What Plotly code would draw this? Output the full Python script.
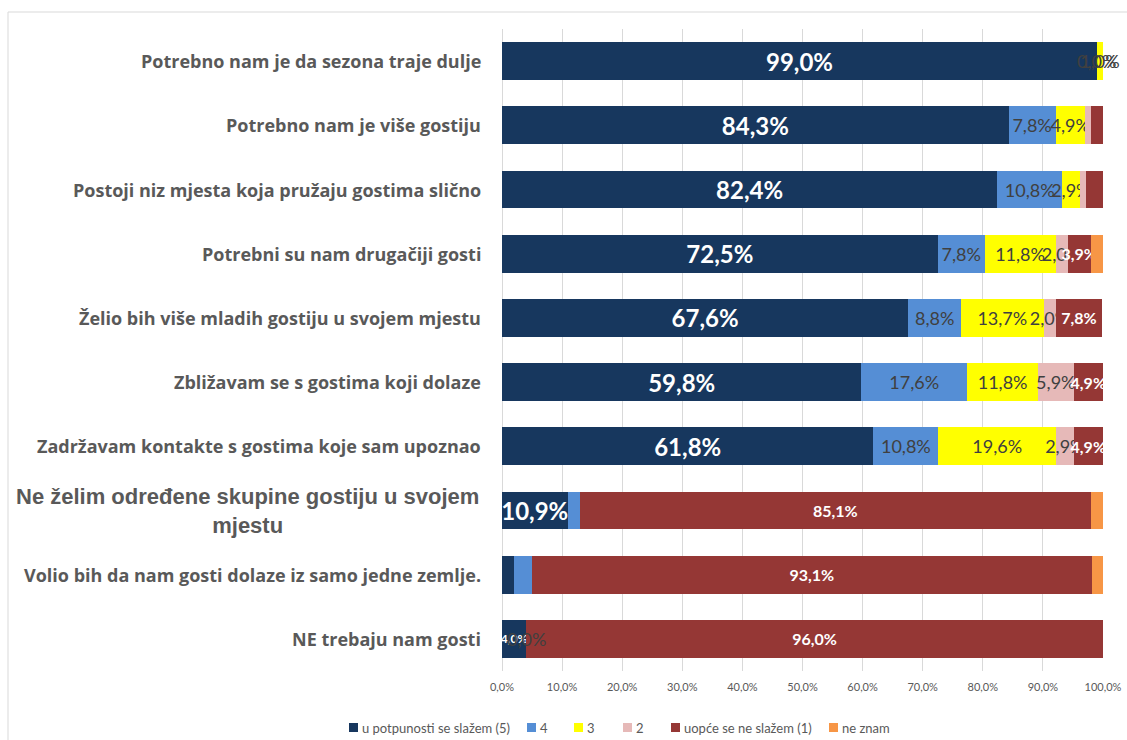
import plotly.graph_objects as go

# Survey statements (top to bottom)
statements = [
    "Potrebno nam je da sezona traje dulje",
    "Potrebno nam je više gostiju",
    "Postoji niz mjesta koja pružaju gostima slično",
    "Potrebni su nam drugačiji gosti",
    "Želio bih više mladih gostiju u svojem mjestu",
    "Zbližavam se s gostima koji dolaze",
    "Zadržavam kontakte s gostima koje sam upoznao",
    "Ne želim određene skupine gostiju u svojem mjestu",
    "Volio bih da nam gosti dolaze iz samo jedne zemlje.",
    "NE trebaju nam gosti",
]

series_names = ["u potpunosti se slažem (5)", "4", "3", "2", "uopće se ne slažem (1)", "ne znam"]

s5 = [99.0, 84.3, 82.4, 72.5, 67.6, 59.8, 61.8, 10.9, 2.0, 4.0]
s4 = [0.0, 7.8, 10.8, 7.8, 8.8, 17.6, 10.8, 2.0, 3.0, 0.0]
s3 = [1.0, 4.9, 2.9, 11.8, 13.7, 11.8, 19.6, 0.0, 0.0, 0.0]
s2 = [0.0, 1.0, 1.0, 2.0, 2.0, 5.9, 2.9, 0.0, 0.0, 0.0]
s1 = [0.0, 2.0, 2.9, 3.9, 7.8, 4.9, 4.9, 85.1, 93.1, 96.0]
s0 = [0.0, 0.0, 0.0, 2.0, 0.0, 0.0, 0.0, 2.0, 2.0, 0.0]

# which data labels are shown for each series
show5 = [True, True, True, True, True, True, True, True, False, True]
show4 = [True, True, True, True, True, True, True, False, False, True]
show3 = [True, True, True, True, True, True, True, False, False, False]
show2 = [False, False, False, True, True, True, True, False, False, False]
show1 = [False, False, False, True, True, True, True, True, True, True]
show0 = [False] * 10

x_ticks = [0, 10, 20, 30, 40, 50, 60, 70, 80, 90, 100]

values = [s5, s4, s3, s2, s1, s0]
shows = [show5, show4, show3, show2, show1, show0]
colors = ["#17375e", "#558ed5", "#ffff00", "#e6b9b8", "#953735", "#f79646"]

# plot-area geometry in pixels
L, R, T, B = 502, 1103, 29, 671
W, H = 1127, 740


def px(x):
    return (x - L) / (R - L)


def py(y):
    return (B - y) / (B - T)


def fmt(v):
    return f"{v:.1f}".replace(".", ",") + "%"


fig = go.Figure()

for i, (name, vals, show, col) in enumerate(zip(series_names, values, shows, colors)):
    texts = [fmt(v) if (s and v > 0) else "" for v, s in zip(vals, show)]
    if i == 0:
        sizes = [12 if v < 5 else 24 for v in vals]
        tf = dict(family="Lato", size=sizes, color="white", weight="bold")
    elif i == 4:
        tf = dict(family="Lato", size=16, color="white", weight="bold")
    else:
        tf = dict(family="Lato", size=18, color="#404040")
    fig.add_trace(go.Bar(
        y=statements, x=vals, name=name, orientation="h",
        marker=dict(color=col, line=dict(width=0)),
        text=texts, textposition="inside", insidetextanchor="middle",
        constraintext="none", textangle=0, textfont=tf,
        cliponaxis=False, hoverinfo="skip", showlegend=False,
    ))

# labels of zero-width segments, placed where the segment sits
for i, (vals, show) in enumerate(zip(values, shows)):
    for r, (v, s) in enumerate(zip(vals, show)):
        if s and v == 0:
            start = sum(values[k][r] for k in range(i))
            fig.add_annotation(
                x=start, y=statements[r], xref="x", yref="y",
                text=fmt(v), showarrow=False, xanchor="center",
                font=dict(family="Lato", size=18, color="#404040"),
            )

# category labels drawn beside the bars
for idx, s in enumerate(statements):
    if idx == 7:
        fig.add_annotation(
            x=px(481), xref="paper", y=s, yref="y", xanchor="right",
            text="Ne želim određene skupine gostiju u svojem<br>mjestu",
            align="center", showarrow=False,
            font=dict(family="Liberation Sans", size=22, color="#595959", weight="bold"),
        )
    else:
        fig.add_annotation(
            x=px(483), xref="paper", y=s, yref="y", xanchor="right",
            text=s, align="right", showarrow=False,
            font=dict(family="Open Sans", size=18, color="#595959", weight="bold"),
        )

# legend row: colour swatch followed by series name
swatch_left = [349, 527, 574, 623, 671, 829]
for name, col, sx in zip(series_names, colors, swatch_left):
    fig.add_shape(type="rect", xref="paper", yref="paper",
                  x0=px(sx), x1=px(sx + 9), y0=py(732), y1=py(723),
                  fillcolor=col, line=dict(width=0))
    fig.add_annotation(x=px(sx + 11), y=py(728), xref="paper", yref="paper",
                       xanchor="left", yanchor="middle", text=name, showarrow=False,
                       font=dict(family="Lato", size=13, color="#595959"))

# outer frame lines
fig.add_shape(type="line", xref="paper", yref="paper",
              x0=px(8), x1=px(W + 5), y0=py(12), y1=py(12),
              line=dict(color="#d9d9d9", width=1))
fig.add_shape(type="line", xref="paper", yref="paper",
              x0=px(8), x1=px(8), y0=py(12), y1=py(W),
              line=dict(color="#d9d9d9", width=1))

fig.update_layout(
    barmode="stack",
    bargap=0.41,
    width=W, height=H,
    margin=dict(l=L, r=W - R, t=T, b=H - B, autoexpand=False),
    paper_bgcolor="white", plot_bgcolor="white",
    showlegend=False,
    xaxis=dict(range=[0, 100.0001], tickvals=x_ticks, ticktext=[fmt(v) for v in x_ticks],
               automargin=False,
               showgrid=True, gridcolor="#d9d9d9", gridwidth=1,
               zeroline=True, zerolinecolor="#d9d9d9", zerolinewidth=1,
               showline=False, ticks="", ticklabelstandoff=8,
               tickfont=dict(family="Lato", size=11, color="#595959")),
    yaxis=dict(autorange="reversed", showticklabels=False, showgrid=False, ticks="",
               automargin=False),
)

fig.write_html("out.html")
